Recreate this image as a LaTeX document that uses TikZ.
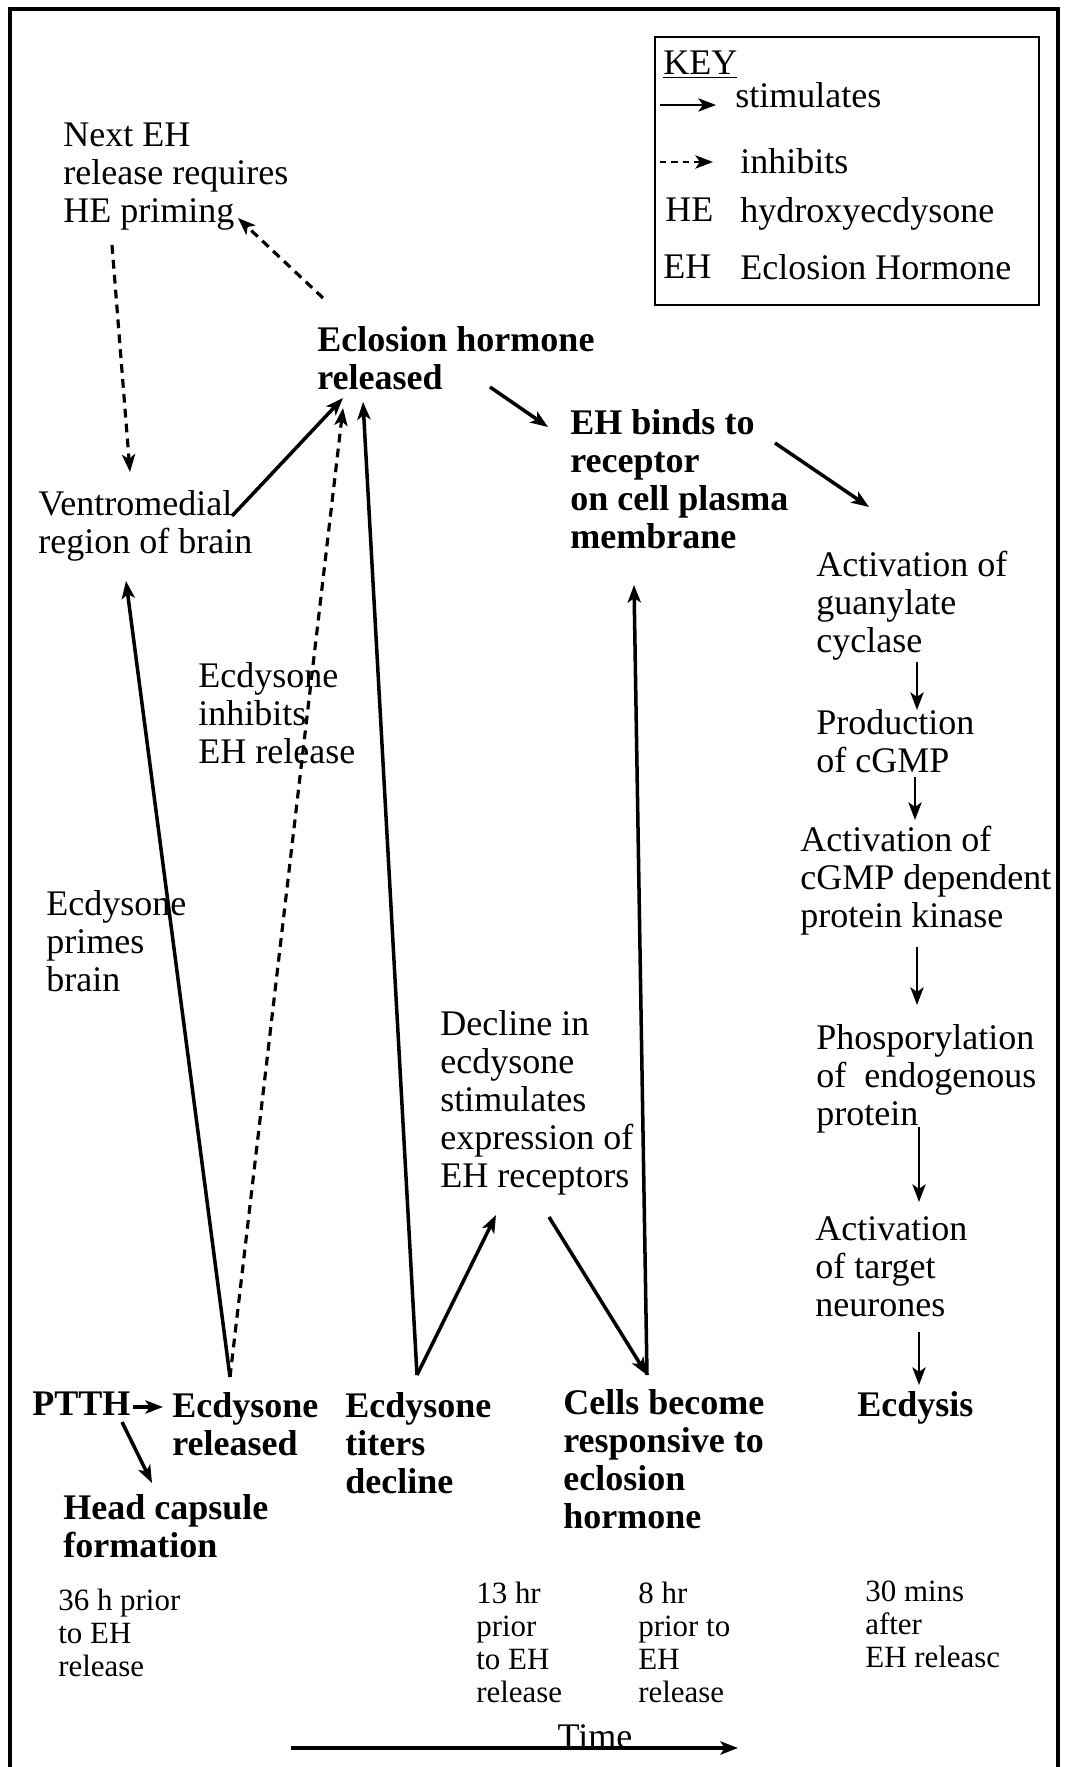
\documentclass[tikz,border=0pt]{standalone}
\usepackage{fontspec}
\setmainfont{Liberation Serif}
\usetikzlibrary{arrows.meta}
\tikzset{
  basic/.style = {inner sep=0pt, anchor=north west, align=left,
                  font=\fontsize{20.5}{21.6}\selectfont},
  stage/.style = {basic, font=\fontsize{20.5}{21.6}\selectfont\bfseries},
  when/.style  = {basic, font=\fontsize{17.6}{18.8}\selectfont},
  stim/.style  = {->, line width=2pt},
  inhib/.style = {->, line width=1.8pt, dash pattern=on 5pt off 3.5pt},
  chain/.style = {->, line width=1.5pt}
}

\begin{document}
\begin{tikzpicture}[x=0.02cm, y=-0.02cm,
  >={Stealth[length=10pt,width=7.5pt,inset=2.5pt]}]

\useasboundingbox (0,0) rectangle (1067,1767);

% frame, open at the bottom
\draw[line width=2pt] (10,1767) -- (10,9) -- (1058,9) -- (1058,1767);

% key
\draw[line width=1.6pt] (655,37) rectangle (1039,305);
\node[basic] (key) at (663,51) {\underline{KEY}};
\node[basic] (stimtext) at (735,82) {stimulates};
\node[basic] (inhtext) at (740,148) {inhibits};
\node[basic] (he) at (665,198) {HE};
\node[basic] (hetext) at (740,197) {hydroxyecdysone};
\node[basic] (eh) at (663,255) {EH};
\node[basic] (ehtext) at (740,254) {Eclosion Hormone};
\draw[chain] ([shift={(-75,23)}]stimtext.north west) -- ([shift={(-19,23)}]stimtext.north west);
\draw[inhib, line width=1.5pt, dash pattern=on 3.5pt off 3pt] ([shift={(-80,14)}]inhtext.north west) -- ([shift={(-27,14)}]inhtext.north west);

% upper part
\node[basic] (nexteh) at (63,123) {Next EH\\release requires\\HE priming};
\node[basic] (ventro) at (38,490) {Ventromedial\\region of brain};
\node[stage] (ehrel) at (317,326) {Eclosion hormone\\released};
\node[stage] (ehbinds) at (570,409) {EH binds to\\receptor\\on cell plasma\\membrane};
\node[basic] (inhlabel) at (198,662) {Ecdysone\\inhibits\\EH release};
\node[basic] (primes) at (46,890) {Ecdysone\\primes\\brain};
\node[basic] (decline) at (440,1010) {Decline in\\ecdysone\\stimulates\\expression of\\EH receptors};

% right column
\node[basic] (guanyl) at (816,551) {Activation of\\guanylate\\cyclase};
\node[basic] (cgmp) at (816,709) {Production\\of cGMP};
\node[basic] (kinase) at (800,826) {Activation of\\cGMP dependent\\protein kinase};
\node[basic] (phos) at (816,1024) {Phosporylation\\of\ \ endogenous\\protein};
\node[basic] (neur) at (815,1216) {Activation\\of target\\neurones};

% bottom row
\node[stage] (ptth) at (32,1392) {PTTH};
\node[stage] (ecdrel) at (172,1392) {Ecdysone\\released};
\node[stage] (head) at (63,1494) {Head capsule\\formation};
\node[stage] (titers) at (345,1392) {Ecdysone\\titers\\decline};
\node[stage] (cells) at (563,1389) {Cells become\\responsive to\\eclosion\\hormone};
\node[stage] (ecdysis) at (857,1391) {Ecdysis};

\node[when] (t36) at (58,1589) {36 h prior\\to EH\\release};
\node[when] (t13) at (476,1582) {13 hr\\prior\\to EH\\release};
\node[when] (t8) at (638,1582) {8 hr\\prior to\\EH\\release};
\node[when] (t30) at (865,1581) {30 mins\\after\\EH releasc};

\coordinate (tstart) at (291,1748);
\coordinate (tend) at (738,1748);
\draw[->, line width=2pt] (tstart) -- node[basic, anchor=base, pos=0.68] (time) {Time} (tend);

% connectors
\draw[inhib] ([shift={(49,122)}]nexteh.north west) -- ([shift={(92,-18)}]ventro.north west);
\draw[inhib] ([shift={(6,-28)}]ehrel.north west) -- ([shift={(175,95)}]nexteh.north west);
\draw[stim] ([shift={(194,26)}]ventro.north west) -- ([shift={(26,72)}]ehrel.north west);
\draw[inhib] ([shift={(58,-15)}]ecdrel.north west) -- ([shift={(26,82)}]ehrel.north west);
\draw[stim] ([shift={(58,-15)}]ecdrel.north west) -- ([shift={(88,91)}]ventro.north west);
\draw[stim] ([shift={(72,-17)}]titers.north west) -- ([shift={(46,76)}]ehrel.north west);
\draw[stim] ([shift={(72,-17)}]titers.north west) -- ([shift={(56,205)}]decline.north west);
\draw[stim] ([shift={(109,207)}]decline.north west) -- ([shift={(84,-14)}]cells.north west);
\draw[stim] ([shift={(84,-14)}]cells.north west) -- ([shift={(64,176)}]ehbinds.north west);
\draw[stim] ([shift={(173,61)}]ehrel.north west) -- ([shift={(-22,18)}]ehbinds.north west);
\draw[stim] ([shift={(205,34)}]ehbinds.north west) -- ([shift={(53,-44)}]guanyl.north west);
\draw[stim] ([shift={(101,15)}]ptth.north west) -- ([shift={(-9,15)}]ecdrel.north west);
\draw[stim] ([shift={(90,30)}]ptth.north west) -- ([shift={(89,-11)}]head.north west);

\foreach \from/\fx/\fy/\to/\tx/\ty in {guanyl/101/111/cgmp/101/1, cgmp/99/68/kinase/115/-6,
    kinase/117/121/phos/101/-19, phos/103/103/neur/104/-14, neur/104/116/ecdysis/62/-6}
  \draw[chain] ([shift={(\fx,\fy)}]\from.north west) -- ([shift={(\tx,\ty)}]\to.north west);

\end{tikzpicture}
\end{document}
